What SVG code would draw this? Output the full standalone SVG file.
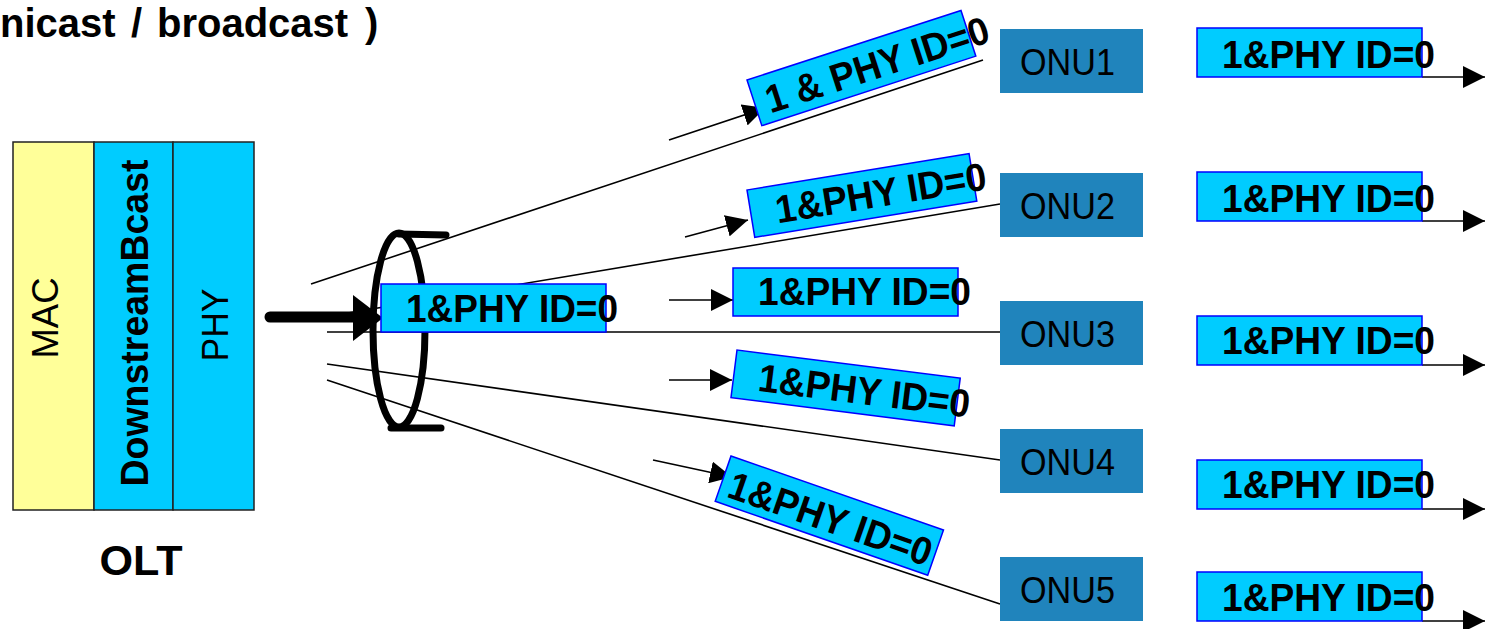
<svg xmlns="http://www.w3.org/2000/svg" width="1488" height="629" viewBox="0 0 1488 629">
<style>
.lbl{fill:#00CCFF;stroke:#0000FF;stroke-width:1.5}
.lt{font-family:"Liberation Sans",Arial,sans-serif;font-weight:bold;font-size:39px;fill:#000}
.onu{fill:#2084BC}
.ot{font-family:"Liberation Sans",Arial,sans-serif;font-size:36px;fill:#000}
.ln{stroke:#000;stroke-width:1.6;fill:none}
.ar{stroke:#000;stroke-width:1.6;fill:none;marker-end:url(#arr)}
.olt{stroke:#222;stroke-width:1.5}
</style>
<defs>
<marker id="arr" markerUnits="userSpaceOnUse" markerWidth="22" markerHeight="22" viewBox="0 0 20 20" refX="20" refY="10" orient="auto">
<path d="M0,0 L20,10 L0,20 z" fill="#000"/>
</marker>
</defs>
<rect width="1488" height="629" fill="#fff"/>
<text id="title" y="37" font-family="Liberation Sans,Arial,sans-serif" font-weight="bold" font-size="40"><tspan x="0">nicast</tspan><tspan x="131">/</tspan><tspan x="157">broadcast</tspan><tspan x="365">)</tspan></text>

<g id="connectors">
<line class="ln" x1="311" y1="284" x2="983" y2="60"/>
<line class="ln" x1="330" y1="316" x2="1000" y2="204"/>
<line class="ln" x1="327" y1="332" x2="1000" y2="332"/>
<line class="ln" x1="327" y1="364" x2="1000" y2="460"/>
<line class="ln" x1="327" y1="380" x2="1000" y2="604"/>
<line class="ar" x1="669" y1="140" x2="765" y2="108"/>
<line class="ar" x1="685" y1="237" x2="748" y2="220"/>
<line class="ar" x1="669" y1="300" x2="733" y2="300"/>
<line class="ar" x1="669" y1="380" x2="732" y2="380"/>
<line class="ar" x1="653" y1="460" x2="732" y2="477"/>
<line class="ar" x1="1422" y1="77" x2="1485" y2="77"/>
<line class="ar" x1="1422" y1="221" x2="1485" y2="221"/>
<line class="ar" x1="1422" y1="365" x2="1485" y2="365"/>
<line class="ar" x1="1422" y1="509" x2="1485" y2="509"/>
<line class="ar" x1="1422" y1="621" x2="1485" y2="621"/>
</g>

<g id="olt">
<rect class="olt" x="13" y="142" width="81" height="368" fill="#FFFF99"/>
<rect class="olt" x="94" y="142" width="79" height="368" fill="#00CCFF"/>
<rect class="olt" x="173" y="142" width="81" height="368" fill="#00CCFF"/>
<text class="ot" font-size="40" transform="translate(58,318) rotate(-90)" text-anchor="middle" textLength="81" lengthAdjust="spacingAndGlyphs">MAC</text>
<text class="lt" font-size="40" transform="translate(148,323) rotate(-90)" text-anchor="middle" textLength="327" lengthAdjust="spacingAndGlyphs">DownstreamBcast</text>
<text class="ot" font-size="40" transform="translate(228,325) rotate(-90)" text-anchor="middle" textLength="73" lengthAdjust="spacingAndGlyphs">PHY</text>
<text x="141" y="575" text-anchor="middle" font-family="Liberation Sans,Arial,sans-serif" font-weight="bold" font-size="43" textLength="83" lengthAdjust="spacingAndGlyphs">OLT</text>
</g>

<g id="lens">
<ellipse cx="399" cy="330" rx="26" ry="97" fill="none" stroke="#000" stroke-width="7"/>
<line x1="399" y1="234" x2="446" y2="235" stroke="#000" stroke-width="7" stroke-linecap="round"/>
<line x1="391" y1="428" x2="441" y2="428" stroke="#000" stroke-width="7" stroke-linecap="round"/>
</g>

<g id="main-arrow">
<line x1="270" y1="317" x2="356" y2="317" stroke="#000" stroke-width="11" stroke-linecap="round"/>
<path d="M353,295 L383,318 L353,341 z" fill="#000"/>
</g>

<g id="label-center">
<rect class="lbl" x="381" y="284" width="225" height="48"/>
<text class="lt" x="406" y="322" textLength="212" lengthAdjust="spacingAndGlyphs">1&amp;PHY ID=0</text>
</g>

<g id="label-1" transform="translate(747,80) rotate(-18)">
<rect class="lbl" x="0" y="0" width="225" height="48"/>
<text class="lt" x="12" y="39" textLength="233" lengthAdjust="spacingAndGlyphs">1 &amp; PHY ID=0</text>
</g>
<g id="label-2" transform="translate(747,190) rotate(-9.3)">
<rect class="lbl" x="0" y="0" width="225" height="48"/>
<text class="lt" x="25" y="38" textLength="213" lengthAdjust="spacingAndGlyphs">1&amp;PHY ID=0</text>
</g>
<g id="label-3">
<rect class="lbl" x="733" y="268" width="225" height="48"/>
<text class="lt" x="758" y="305" textLength="213" lengthAdjust="spacingAndGlyphs">1&amp;PHY ID=0</text>
</g>
<g id="label-4" transform="translate(737,350) rotate(7.2)">
<rect class="lbl" x="0" y="0" width="225" height="48"/>
<text class="lt" x="25" y="38" textLength="213" lengthAdjust="spacingAndGlyphs">1&amp;PHY ID=0</text>
</g>
<g id="label-5" transform="translate(731,456) rotate(19.2)">
<rect class="lbl" x="0" y="0" width="225" height="48"/>
<text class="lt" x="8" y="40" textLength="213" lengthAdjust="spacingAndGlyphs">1&amp;PHY ID=0</text>
</g>

<g id="onu1"><rect class="onu" x="1000" y="29" width="143" height="64"/><text class="ot" x="1020" y="75" textLength="95" lengthAdjust="spacingAndGlyphs">ONU1</text></g>
<g id="onu2"><rect class="onu" x="1000" y="173" width="143" height="64"/><text class="ot" x="1020" y="219" textLength="95" lengthAdjust="spacingAndGlyphs">ONU2</text></g>
<g id="onu3"><rect class="onu" x="1000" y="301" width="143" height="64"/><text class="ot" x="1020" y="347" textLength="95" lengthAdjust="spacingAndGlyphs">ONU3</text></g>
<g id="onu4"><rect class="onu" x="1000" y="429" width="143" height="64"/><text class="ot" x="1020" y="475" textLength="95" lengthAdjust="spacingAndGlyphs">ONU4</text></g>
<g id="onu5"><rect class="onu" x="1000" y="557" width="143" height="64"/><text class="ot" x="1020" y="603" textLength="95" lengthAdjust="spacingAndGlyphs">ONU5</text></g>

<g id="out1"><rect class="lbl" x="1197" y="28" width="225" height="49"/><text class="lt" x="1222" y="68" textLength="213" lengthAdjust="spacingAndGlyphs">1&amp;PHY ID=0</text></g>
<g id="out2"><rect class="lbl" x="1197" y="172" width="225" height="49"/><text class="lt" x="1222" y="212" textLength="213" lengthAdjust="spacingAndGlyphs">1&amp;PHY ID=0</text></g>
<g id="out3"><rect class="lbl" x="1197" y="316" width="225" height="49"/><text class="lt" x="1222" y="354" textLength="213" lengthAdjust="spacingAndGlyphs">1&amp;PHY ID=0</text></g>
<g id="out4"><rect class="lbl" x="1197" y="460" width="225" height="49"/><text class="lt" x="1222" y="498" textLength="213" lengthAdjust="spacingAndGlyphs">1&amp;PHY ID=0</text></g>
<g id="out5"><rect class="lbl" x="1197" y="572" width="225" height="49"/><text class="lt" x="1222" y="611" textLength="213" lengthAdjust="spacingAndGlyphs">1&amp;PHY ID=0</text></g>
</svg>
